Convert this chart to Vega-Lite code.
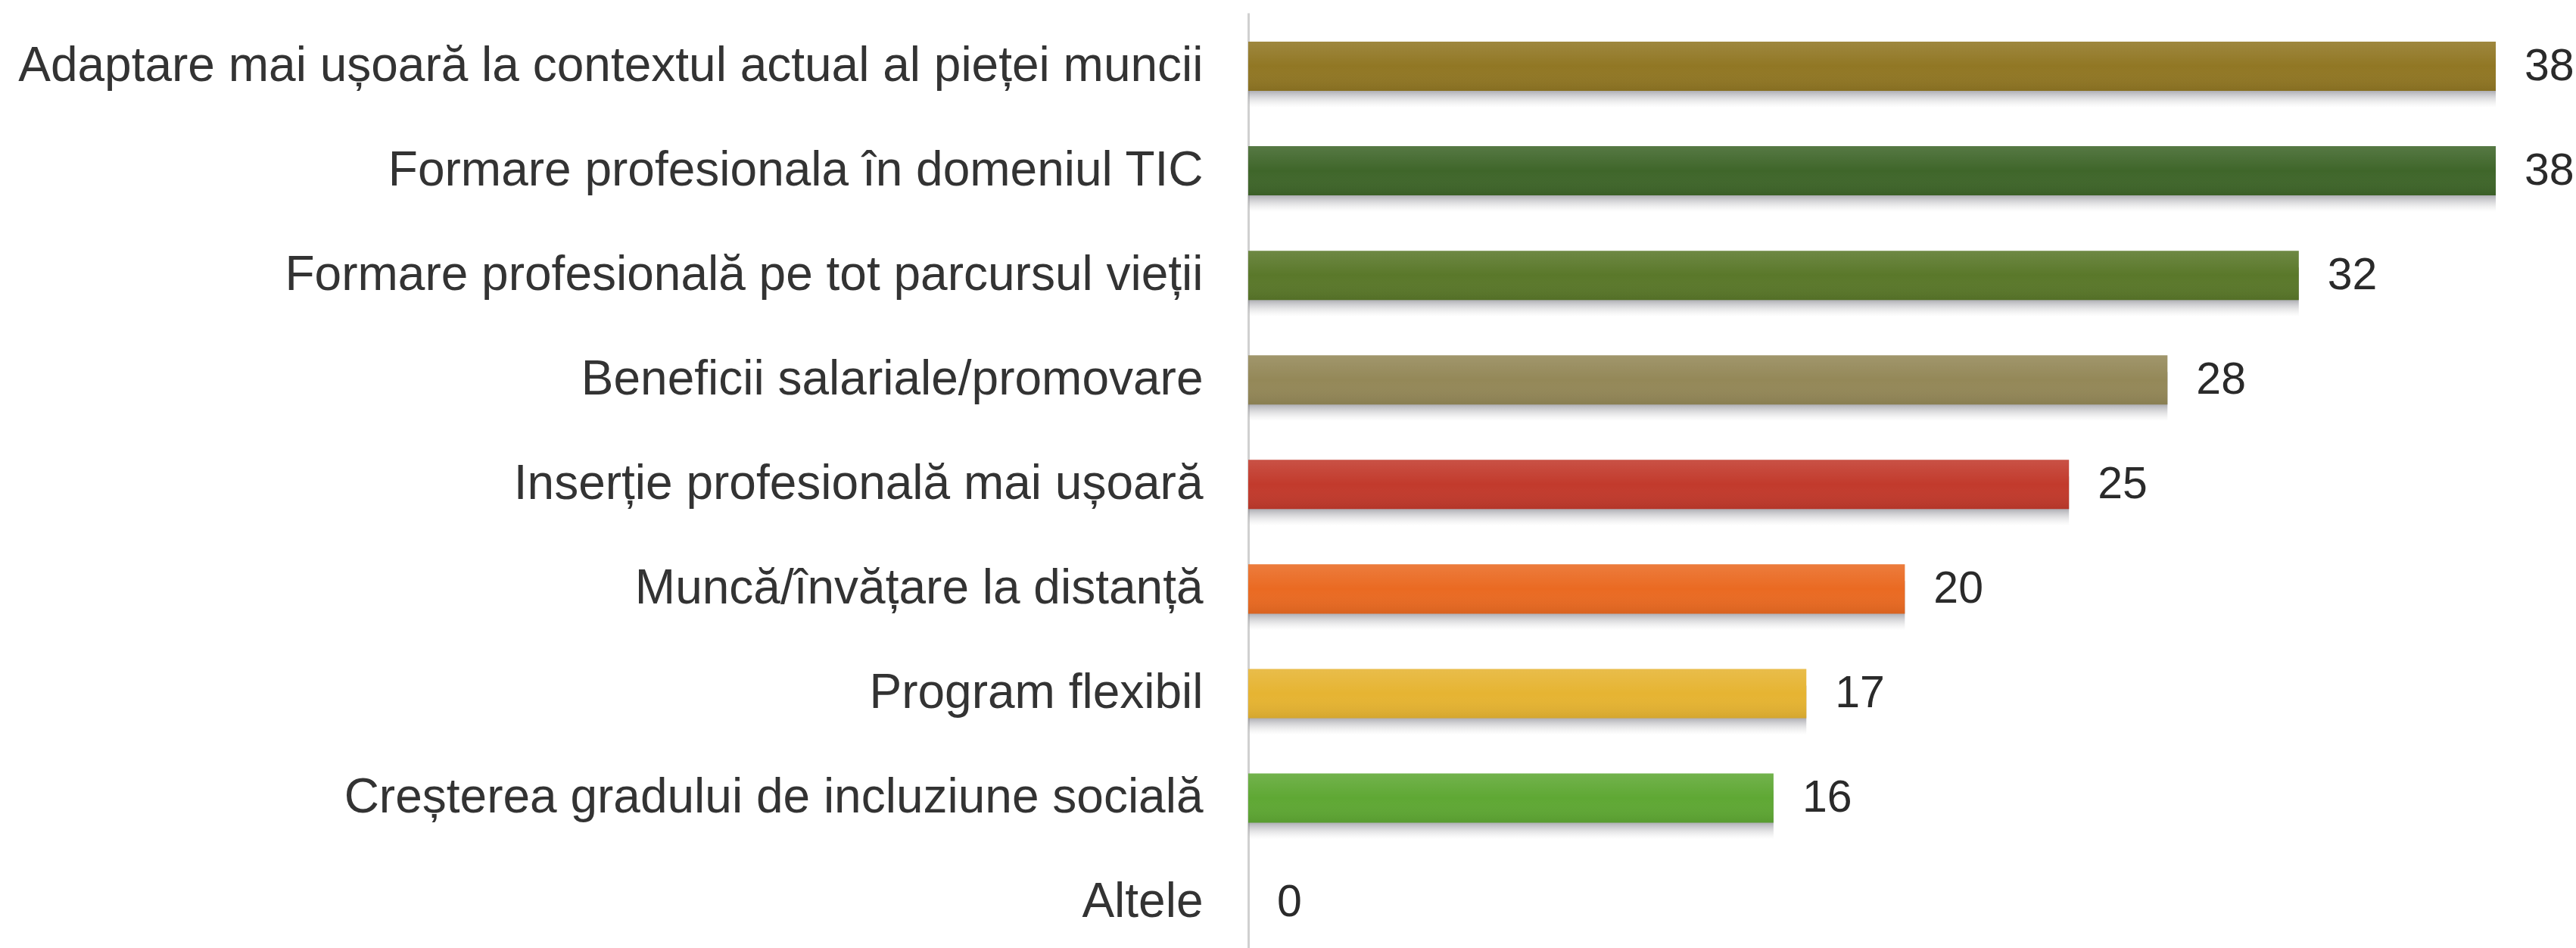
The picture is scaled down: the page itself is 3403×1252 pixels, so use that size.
{
  "$schema": "https://vega.github.io/schema/vega-lite/v6.json",
  "width": 1648,
  "height": 1235,
  "autosize": {"type": "none"},
  "padding": {"left": 1649, "right": 106, "top": 17, "bottom": 0},
  "background": "#ffffff",
  "config": {"view": {"stroke": null}},
  "data": {
    "values": [
      {"label": "Adaptare mai ușoară la contextul actual al pieței muncii", "value": 38, "key": "a"},
      {"label": "Formare profesionala  în domeniul TIC", "value": 38, "key": "b"},
      {"label": "Formare profesională pe tot parcursul vieții", "value": 32, "key": "c"},
      {"label": "Beneficii salariale/promovare", "value": 28, "key": "d"},
      {"label": "Inserție profesională mai ușoară", "value": 25, "key": "e"},
      {"label": "Muncă/învățare la distanță", "value": 20, "key": "f"},
      {"label": "Program flexibil", "value": 17, "key": "g"},
      {"label": "Creșterea gradului de incluziune socială", "value": 16, "key": "h"},
      {"label": "Altele", "value": 0, "key": "i"}
    ]
  },
  "encoding": {
    "y": {
      "field": "label",
      "type": "nominal",
      "sort": null,
      "scale": {"paddingInner": 0.529, "paddingOuter": 0.237, "align": 0.581},
      "axis": {
        "title": null,
        "ticks": false,
        "domain": true,
        "domainColor": "#d0d0d0",
        "domainWidth": 3,
        "labelFont": "Liberation Sans",
        "labelFontSize": 64,
        "labelColor": "#333333",
        "labelPadding": 60,
        "labelLimit": 0,
        "grid": false
      }
    },
    "x": {
      "field": "value",
      "type": "quantitative",
      "scale": {"domain": [0, 38], "nice": false, "zero": true},
      "axis": null
    }
  },
  "layer": [
    {
      "mark": {
        "type": "bar",
        "yOffset": 22,
        "color": {
          "gradient": "linear",
          "x1": 0, "y1": 0, "x2": 0, "y2": 1,
          "stops": [
            {"offset": 0, "color": "rgba(110,110,125,0.7)"},
            {"offset": 0.66, "color": "rgba(120,120,130,0.6)"},
            {"offset": 1, "color": "rgba(200,200,200,0.0)"}
          ]
        }
      }
    },
    {
      "mark": {"type": "bar"},
      "encoding": {
        "color": {
          "field": "key",
          "type": "nominal",
          "legend": null,
          "scale": {
            "domain": ["a", "b", "c", "d", "e", "f", "g", "h", "i"],
            "range": ["#917724", "#3f662a", "#5a782a", "#948858", "#c23a2c", "#ea6a22", "#e6b432", "#5fa834", "#999999"]
          }
        }
      }
    },
    {
      "mark": {
        "type": "bar",
        "color": {
          "gradient": "linear",
          "x1": 0, "y1": 0, "x2": 0, "y2": 1,
          "stops": [
            {"offset": 0, "color": "rgba(255,255,255,0.12)"},
            {"offset": 0.5, "color": "rgba(255,255,255,0.0)"},
            {"offset": 1, "color": "rgba(0,0,0,0.08)"}
          ]
        }
      }
    },
    {
      "mark": {
        "type": "text",
        "align": "left",
        "baseline": "middle",
        "dx": 38,
        "font": "Liberation Sans",
        "fontSize": 59,
        "color": "#2a2a2a"
      },
      "encoding": {"text": {"field": "value", "type": "quantitative"}}
    }
  ]
}
